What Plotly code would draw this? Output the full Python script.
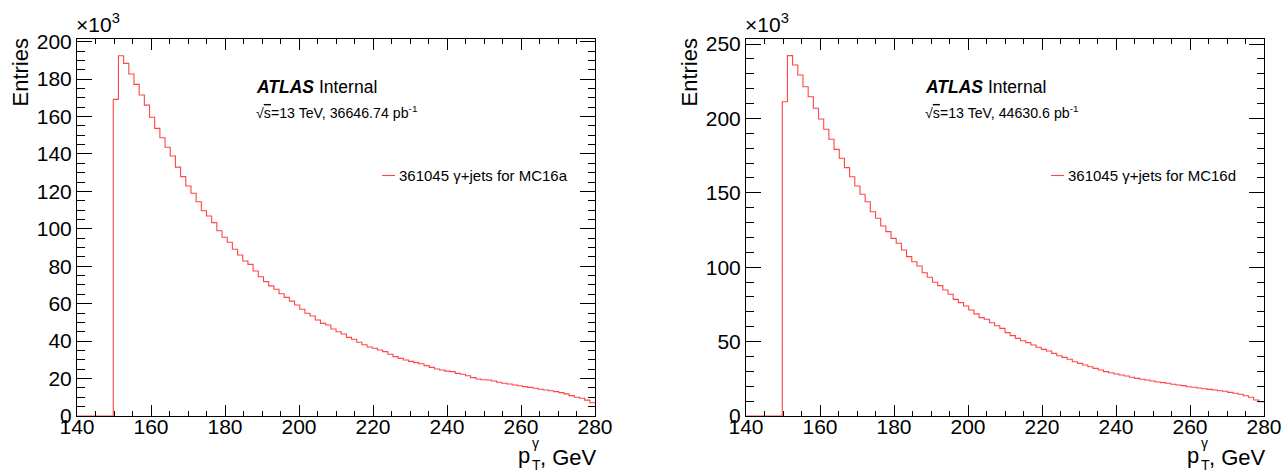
import plotly.graph_objects as go

# ---------------- data (entries in units of 10^3) ----------------
bin_low = 140.0
bin_width = 1.4
n_bins = 100

mc16a_entries = [0, 0, 0, 0, 0, 0, 0,
    169.2, 192.5, 188.4, 182.7, 177.2, 171.5, 166.1, 159.6, 153.7, 148.7, 143.6, 138.9, 133.0, 127.9,
    122.9, 119.0, 114.5, 109.7, 106.9, 103.3, 99.0, 95.5, 92.8, 89.1,
    86.0, 82.8, 81.0, 77.5, 74.4, 71.8, 69.5, 67.7, 65.3, 63.4,
    61.4, 59.3, 57.0, 54.9, 53.4, 51.3, 49.5, 48.6, 46.5, 45.0,
    43.8, 42.0, 41.0, 39.4, 38.1, 36.9, 36.2, 35.3, 34.4, 33.0,
    31.7, 30.8, 29.9, 29.2, 28.5, 27.9, 26.9, 26.0, 25.1, 24.6,
    24.0, 23.7, 22.8, 22.3, 21.5, 20.5, 19.8, 19.4, 19.2, 18.7,
    18.0, 17.5, 17.1, 16.6, 16.2, 15.7, 15.3, 14.8, 14.3, 13.9,
    13.5, 13.0, 12.5, 11.8, 10.9, 10.0, 9.5, 8.5, 7.1]

mc16d_entries = [0, 0, 0, 0, 0, 0, 0,
    211.2, 242.2, 235.9, 229.2, 221.3, 214.6, 206.8, 199.6, 192.7, 186.0, 179.2, 173.2, 166.9, 160.8,
    154.6, 149.0, 144.0, 137.3, 132.9, 127.7, 123.9, 119.4, 116.1, 111.6,
    107.1, 103.7, 100.8, 96.3, 93.2, 89.9, 87.6, 84.7, 81.8, 78.4,
    76.2, 73.9, 71.2, 68.6, 66.1, 65.0, 62.7, 60.7, 58.9, 56.0,
    54.0, 52.2, 50.6, 49.3, 47.7, 46.2, 44.8, 43.7, 42.1, 40.5,
    39.4, 38.1, 36.5, 35.4, 34.3, 33.1, 32.0, 30.9, 29.8, 29.1,
    28.2, 27.6, 26.9, 26.0, 25.3, 24.7, 24.2, 23.5, 22.9, 22.4,
    22.0, 21.3, 20.8, 20.4, 19.7, 19.3, 18.8, 18.3, 17.9, 17.5,
    17.0, 16.6, 15.9, 15.3, 14.6, 13.6, 12.6, 10.8, 9.6]

legend_labels = ["361045 γ+jets for MC16a", "361045 γ+jets for MC16d"]
lumi_labels = ["36646.74", "44630.6"]
y_max = [201.7, 253.7]
y_major = [20, 50]
y_minor = [5, 10]
x_ticks = [140, 160, 180, 200, 220, 240, 260, 280]

# ---------------- figure ----------------
W, H = 1286, 472
FONT = "Liberation Sans, Arial, Helvetica, sans-serif"
RED = "#ff4545"

def px(x):
    return x / W

def py(y):
    return 1 - y / H

edges = [bin_low + bin_width * i for i in range(n_bins + 1)]

fig = go.Figure()
panels = [
    dict(x0=77, x1=595, vals=mc16a_entries),
    dict(x0=746, x1=1264, vals=mc16d_entries),
]
y_top, y_bot = 38.5, 416

annotations = []
shapes = []

def ann(text, x, y, xa, ya, size, **kw):
    d = dict(text=text, x=px(x), y=py(y), xref="paper", yref="paper", xanchor=xa, yanchor=ya,
             showarrow=False, font=dict(family=FONT, size=size, color="black"), borderpad=0)
    d.update(kw)
    annotations.append(d)

for k, p in enumerate(panels):
    xa = "x" if k == 0 else "x2"
    ya = "y" if k == 0 else "y2"
    fig.add_trace(go.Scatter(
        x=edges, y=list(p["vals"]) + [p["vals"][-1]],
        mode="lines", line=dict(color=RED, width=1.1, shape="hv"),
        name=legend_labels[k], showlegend=False, xaxis=xa, yaxis=ya,
        hoverinfo="skip"))

    axis_common = dict(
        showline=True, linecolor="black", linewidth=1, mirror="allticks",
        ticks="inside", tickcolor="black", tickwidth=1,
        showgrid=False, zeroline=False, automargin=False,
        tickfont=dict(family=FONT, size=21, color="black"),
    )
    xkey = "xaxis" if k == 0 else "xaxis2"
    ykey = "yaxis" if k == 0 else "yaxis2"
    fig.layout[xkey] = dict(
        axis_common, domain=[px(p["x0"]), px(p["x1"])], range=[140, 280],
        tickvals=x_ticks, ticklen=11, ticklabelstandoff=-8,
        minor=dict(dtick=5, tick0=140, ticklen=5.5, ticks="inside", tickcolor="black", showgrid=False),
        anchor=ya,
    )
    fig.layout[ykey] = dict(
        axis_common, domain=[py(y_bot), py(y_top)], range=[0, y_max[k]],
        dtick=y_major[k], tick0=0, ticklen=15,
        minor=dict(dtick=y_minor[k], tick0=0, ticklen=7.5, ticks="inside", tickcolor="black", showgrid=False),
        anchor=xa,
    )

    x0 = p["x0"]
    x1 = p["x1"]
    ann("×10<sup>3</sup>", x0 - 2, 37, "left", "bottom", 21)
    ann("Entries", x0 - 57, y_top - 1, "center", "top", 22, textangle=-90)
    ann(", GeV", x1 + 3, 457, "right", "middle", 22)
    ann("p", x1 - 64, 455, "right", "middle", 22)
    ann("γ", x1 - 64, 443, "left", "middle", 14)
    ann("T", x1 - 64, 465, "left", "middle", 14)
    ax_ = x0 + 178
    ann("<b><i>ATLAS</i></b> Internal", ax_, 87, "left", "middle", 17.5)
    ann("√<span style='text-decoration:overline'>s</span>=13 TeV, " + lumi_labels[k] + " pb<sup>-1</sup>",
        ax_, 112, "left", "middle", 14.2)
    lx = x0 + 305
    shapes.append(dict(type="line", xref="paper", yref="paper", x0=px(lx), x1=px(lx + 13),
                       y0=py(175.5), y1=py(175.5), line=dict(color=RED, width=1.1)))
    ann(legend_labels[k], lx + 16, 175.5, "left", "middle", 15)

fig.update_layout(
    template="none",
    width=W, height=H, margin=dict(l=0, r=0, t=0, b=0, autoexpand=False),
    paper_bgcolor="white", plot_bgcolor="white",
    annotations=annotations, shapes=shapes, showlegend=False,
)

fig.write_html("out.html", config={"displayModeBar": False},
               post_script="document.body.style.margin='0';document.body.style.overflow='hidden';")
